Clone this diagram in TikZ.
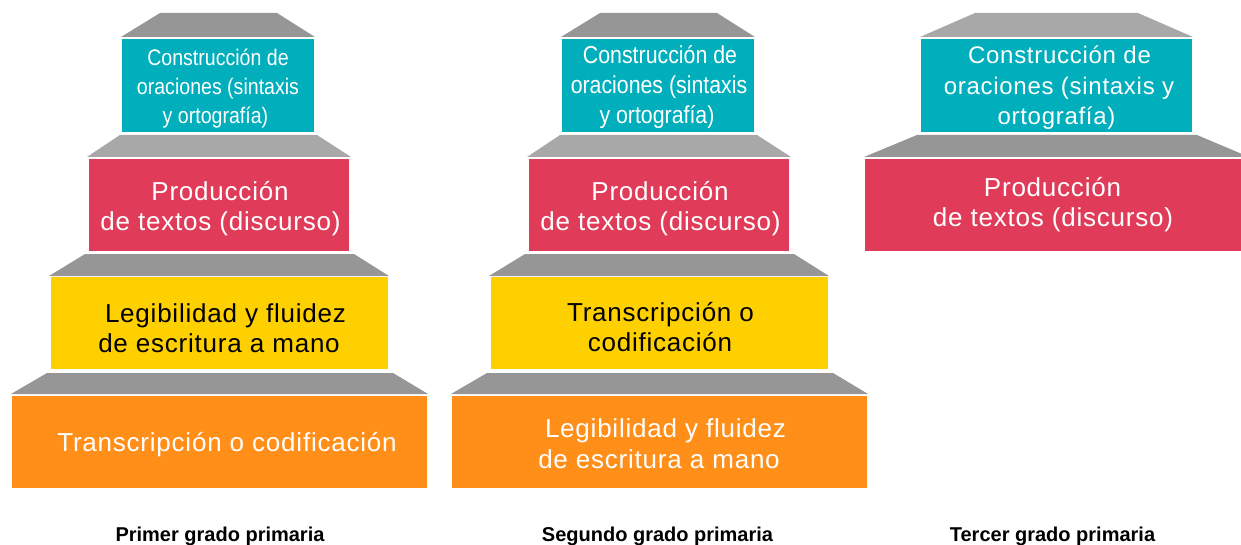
\documentclass[tikz,border=0pt]{standalone}
\usepackage{fontspec}
\setmainfont{Liberation Sans}
\newfontfamily\mainf[LetterSpace=3.0]{Liberation Sans}
\newfontfamily\condf[FakeStretch=0.87]{Liberation Sans}
\definecolor{cteal}{RGB}{0,174,188}
\definecolor{cred}{RGB}{224,60,90}
\definecolor{cyellow}{RGB}{255,208,0}
\definecolor{corange}{RGB}{255,143,25}
\definecolor{gdark}{RGB}{150,150,150}
\definecolor{glight}{RGB}{168,168,168}
\tikzset{
  box/.style={rectangle, inner sep=0pt, outer sep=0pt, draw=none},
  ln/.style={anchor=base, inner sep=0pt, outer sep=0pt},
  big/.style={ln, font={\mainf\fontsize{26}{30}\selectfont}},
  mid/.style={ln, font={\mainf\fontsize{24}{30}\selectfont}},
  cnA/.style={ln, font={\condf\fontsize{22.5}{28}\selectfont}},
  cnB/.style={ln, font={\condf\fontsize{24.5}{28}\selectfont}},
  lab/.style={ln, font={\fontsize{20}{24}\selectfont\bfseries}, text=black},
}
\begin{document}
\begin{tikzpicture}[x=1pt,y=-1pt]
\useasboundingbox[fill=white] (0,0) rectangle (1241,545);

% ---------- Pyramid 1 ----------
\fill[gdark]  (160,13) -- (277,13) -- (315,37) -- (121,37) -- cycle;
\node[box, fill=cteal,   minimum width=192, minimum height=93] (p1a) at (218,85.5) {};
\fill[glight] (120,135) -- (317,135) -- (351,157) -- (87,157) -- cycle;
\node[box, fill=cred,    minimum width=260, minimum height=92] (p1b) at (219,205) {};
\fill[gdark]  (85,254) -- (354,254) -- (389,276) -- (49,276) -- cycle;
\node[box, fill=cyellow, minimum width=337, minimum height=92] (p1c) at (219.5,323) {};
\fill[gdark]  (47,373) -- (393,373) -- (428,394) -- (11,394) -- cycle;
\node[box, fill=corange, minimum width=415, minimum height=92] (p1d) at (219.5,442) {};

\node[cnA, text=white] (p1a1) at (218,65.7) {Construcción de};
\node[cnA, text=white] (p1a2) at (218,94.5) {oraciones (sintaxis};
\node[cnA, text=white] (p1a3) at (215.5,123.3) {y ortografía)};
\node[big, text=white] (p1b1) at (220,201) {Producción};
\node[big, text=white] (p1b2) at (220.5,230.5) {de textos (discurso)};
\node[big, text=black] (p1c1) at (225.5,322) {Legibilidad y fluidez};
\node[big, text=black] (p1c2) at (219,352) {de escritura a mano};
\node[big, text=white] (p1d1) at (227,451) {Transcripción o codificación};
\node[lab] (l1) at (220,541.5) {Primer grado primaria};

% ---------- Pyramid 2 ----------
\fill[gdark]  (600,13) -- (717,13) -- (755,37) -- (561,37) -- cycle;
\node[box, fill=cteal,   minimum width=192, minimum height=93] (p2a) at (658,85.5) {};
\fill[glight] (560,135) -- (757,135) -- (791,157) -- (527,157) -- cycle;
\node[box, fill=cred,    minimum width=260, minimum height=92] (p2b) at (659,205) {};
\fill[gdark]  (525,254) -- (794,254) -- (829,276) -- (489,276) -- cycle;
\node[box, fill=cyellow, minimum width=337, minimum height=92] (p2c) at (659.5,323) {};
\fill[gdark]  (487,373) -- (833,373) -- (868,394) -- (451,394) -- cycle;
\node[box, fill=corange, minimum width=415, minimum height=92] (p2d) at (659.5,442) {};

\node[cnB, text=white] (p2a1) at (660,64) {Construcción de};
\node[cnB, text=white] (p2a2) at (659,93.3) {oraciones (sintaxis};
\node[cnB, text=white] (p2a3) at (657,123.3) {y ortografía)};
\node[big, text=white] (p2b1) at (660,200.5) {Producción};
\node[big, text=white] (p2b2) at (660.5,230.5) {de textos (discurso)};
\node[big, text=black] (p2c1) at (660.5,321.7) {Transcripción o};
\node[big, text=black] (p2c2) at (660,351.7) {codificación};
\node[big, text=white] (p2d1) at (665.5,437.3) {Legibilidad y fluidez};
\node[big, text=white] (p2d2) at (659,468.3) {de escritura a mano};
\node[lab] (l2) at (657.5,541.5) {Segundo grado primaria};

% ---------- Pyramid 3 ----------
\fill[glight] (975,13) -- (1138,13) -- (1193,37) -- (920,37) -- cycle;
\node[box, fill=cteal, minimum width=271, minimum height=93] (p3a) at (1056.5,85.5) {};
\fill[gdark]  (917,135) -- (1197,135) -- (1249,157) -- (864,157) -- cycle;
\node[box, fill=cred,  minimum width=383, minimum height=92] (p3b) at (1056.5,205) {};

\node[mid, text=white] (p3a1) at (1059.5,63.3) {Construcción de};
\node[mid, text=white] (p3a2) at (1059,94.3) {oraciones (sintaxis y};
\node[mid, text=white] (p3a3) at (1056.5,125) {ortografía)};
\node[big, text=white] (p3b1) at (1052.5,196.7) {Producción};
\node[big, text=white] (p3b2) at (1053,226.7) {de textos (discurso)};
\node[lab] (l3) at (1052.5,541.5) {Tercer grado primaria};
\end{tikzpicture}
\end{document}
